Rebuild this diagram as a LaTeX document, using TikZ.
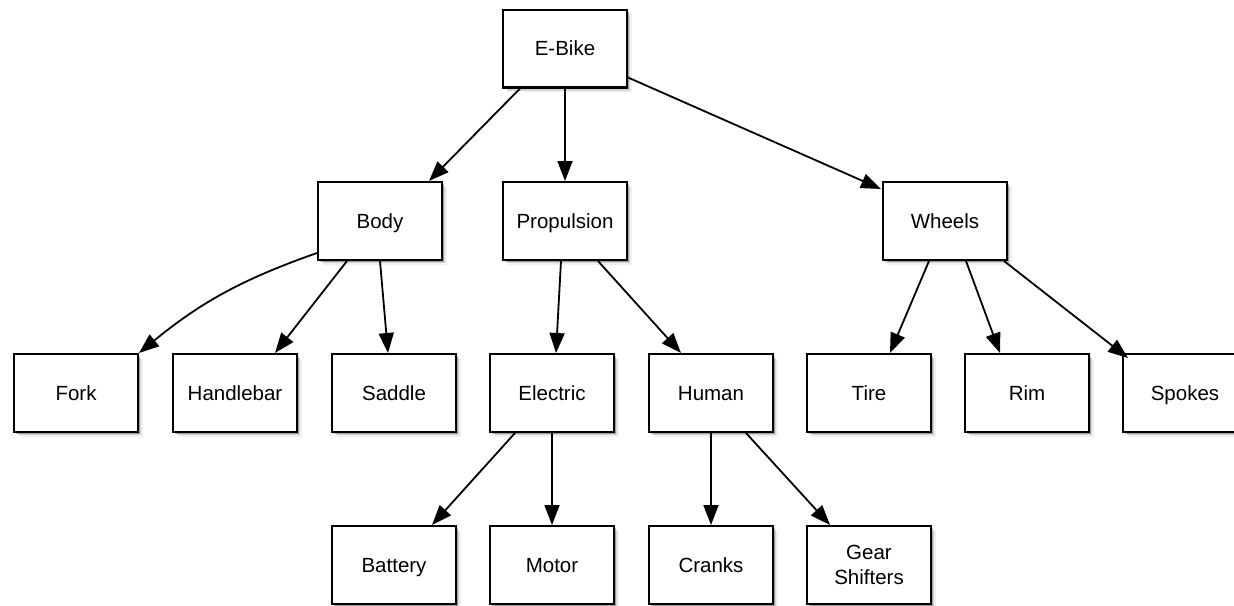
\documentclass[tikz,border=0pt]{standalone}
\usepackage{fontspec}
\setmainfont{Liberation Sans}
\usetikzlibrary{arrows.meta,shadows}
\begin{document}
\begin{tikzpicture}[x=1pt,y=-1pt,
  basebox/.style={draw, line width=2.4pt, fill=white, minimum width=123.6pt, minimum height=77.6pt, inner sep=0pt,
    align=center, font=\fontsize{20.5pt}{25pt}\selectfont,
    drop shadow={shadow xshift=5pt, shadow yshift=-5pt, opacity=0.06, fill=black},
    drop shadow={shadow xshift=3.5pt, shadow yshift=-3.5pt, opacity=0.12, fill=black},
    drop shadow={shadow xshift=2pt, shadow yshift=-2pt, opacity=0.25, fill=black}},
  box/.style={basebox, text height=16pt, text depth=1.4pt},
  conn/.style={draw, line width=1.8pt, -{Triangle[length=20pt,width=15pt]}}]
\useasboundingbox (0,0) rectangle (1234,605);
\node[box] (ebike) at (565,48.5) {E-Bike};
\node[box] (body) at (380,221) {Body};
\node[box] (propulsion) at (565,221) {Propulsion};
\node[box] (wheels) at (945,221) {Wheels};
\node[box] (fork) at (76,393) {Fork};
\node[box] (handlebar) at (235,393) {Handlebar};
\node[box] (saddle) at (394,393) {Saddle};
\node[box] (electric) at (552,393) {Electric};
\node[box] (human) at (711,393) {Human};
\node[box] (tire) at (869,393) {Tire};
\node[box] (rim) at (1027,393) {Rim};
\node[box] (spokes) at (1185,393) {Spokes};
\node[box] (battery) at (394,565) {Battery};
\node[box] (motor) at (552,565) {Motor};
\node[box] (cranks) at (711,565) {Cranks};
\node[basebox] (gear) at (869,565) {Gear\\Shifters};

\draw[conn] ([xshift=18pt]ebike.south west) -- ([xshift=-14pt]body.north east);
\draw[conn] (ebike.south) -- (propulsion.north);
\draw[conn] ([yshift=-29pt]ebike.east) -- ([xshift=-1pt,yshift=-8pt]wheels.north west);
\draw[conn] ([yshift=8pt]body.south west) to[bend right=10] (fork.north east);
\draw[conn] ([xshift=30pt]body.south west) -- ([xshift=-23pt]handlebar.north east);
\draw[conn] (body.south) -- ([xshift=-6pt]saddle.north);
\draw[conn] ([xshift=-4pt]propulsion.south) -- ([xshift=4pt]electric.north);
\draw[conn] ([xshift=33pt]propulsion.south) -- ([xshift=33pt]human.north west);
\draw[conn] ([xshift=-16pt]wheels.south) -- ([xshift=21pt]tire.north);
\draw[conn] ([xshift=21pt]wheels.south) -- ([xshift=36pt]rim.north west);
\draw[conn] ([xshift=-4pt]wheels.south east) -- ([xshift=6pt,yshift=-5pt]spokes.north west);
\draw[conn] ([xshift=26pt]electric.south west) -- ([xshift=-25pt]battery.north east);
\draw[conn] (electric.south) -- (motor.north);
\draw[conn] (human.south) -- (cranks.north);
\draw[conn] ([xshift=35pt]human.south) -- ([xshift=24pt]gear.north west);
\end{tikzpicture}
\end{document}
